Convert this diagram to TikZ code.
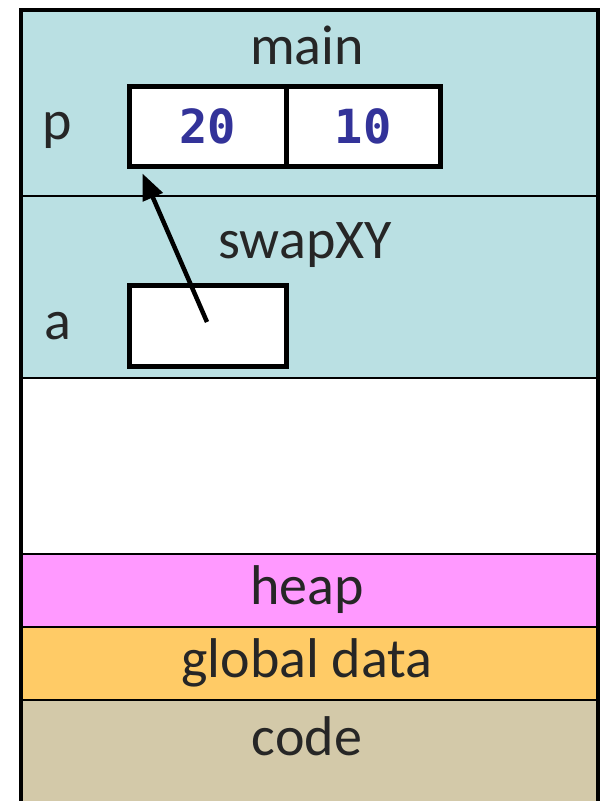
\documentclass[tikz,border=0pt]{standalone}
\usepackage{fontspec}
\setmainfont{Carlito}
\newfontfamily\codefont{DejaVu Sans Mono}
\usetikzlibrary{arrows.meta,calc}
\definecolor{stackblue}{HTML}{BAE0E3}
\definecolor{heapcol}{HTML}{FF99FF}
\definecolor{globcol}{HTML}{FFCB66}
\definecolor{codecol}{HTML}{D3C9A9}
\definecolor{ink}{HTML}{262626}
\definecolor{valcol}{HTML}{333399}
\tikzset{
  sec/.style={draw=black, line width=2pt, rectangle, inner sep=0pt, minimum width=577pt},
  lbl/.style={text=ink, inner sep=0pt, font=\fontsize{56}{62}\selectfont},
  cell/.style={draw=black, fill=white, line width=5pt, rectangle, inner sep=0pt, minimum height=80pt},
  val/.style={text=valcol, font=\codefont\bfseries\fontsize{47}{50}\selectfont},
  ptr/.style={line width=4.5pt, -{Triangle[length=26pt,width=21pt]}}
}
\begin{document}
\begin{tikzpicture}[x=1pt,y=-1pt]
\useasboundingbox (0,0) rectangle (600,801);
% sections
\node[sec, fill=stackblue, minimum height=186pt] (mainsec) at (309.5,103) {};
\node[sec, fill=stackblue, minimum height=182pt] (swapsec) at (309.5,287) {};
\node[sec, fill=white, minimum height=176pt] (freesec) at (309.5,466) {};
\node[sec, fill=heapcol, minimum height=73pt] (heapsec) at (309.5,590.5) {};
\node[sec, fill=globcol, minimum height=73pt] (globsec) at (309.5,663.5) {};
\node[sec, fill=codecol, minimum height=120pt] (codesec) at (309.5,760) {};
% outer frame
\draw[line width=4pt] (21,830) -- (21,10) -- (598,10) -- (598,830);
% labels
\node[lbl] (tmain) at (307,45) {main};
\node[lbl] (tswap) at (305,245) {swapXY};
\node[lbl] (theap) at (307,590) {heap};
\node[lbl] (tglob) at (307,663) {global data};
\node[lbl] (tcode) at (307,736) {code};
\node[lbl] (tp) at (57,130) {p};
\node[lbl] (ta) at (58,326) {a};
% p struct
\node[cell, minimum width=157pt] (px) at (207.5,126) {};
\node[cell, minimum width=154pt] (py) at (363,126) {};
\node[val] (v20) at (px.center) {20};
\node[val] (v10) at (py.center) {10};
% pointer a
\node[cell, minimum width=157pt, minimum height=81pt] (abox) at (207.5,325.5) {};
\coordinate (astart) at (207,322);
\draw[ptr] (astart) -- ($(px.south west)+(16,5)$);
\end{tikzpicture}
\end{document}
